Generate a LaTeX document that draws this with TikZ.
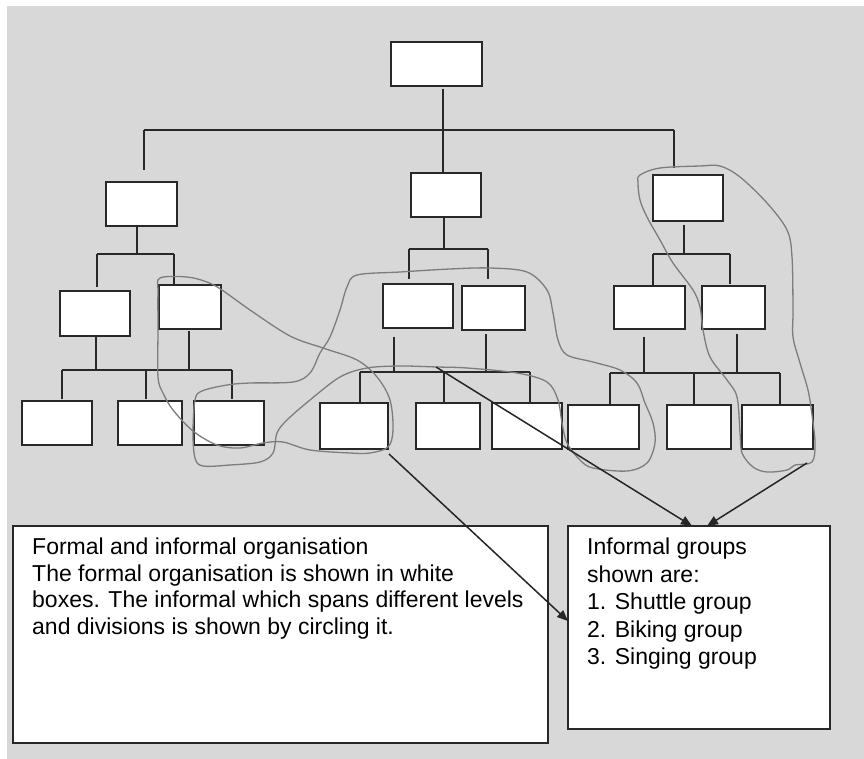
\documentclass[tikz,border=0pt]{standalone}
\usepackage{fontspec}
\setmainfont{Liberation Sans}
\usetikzlibrary{arrows.meta}

\definecolor{canvas}{RGB}{216,216,216}
\definecolor{ink}{RGB}{40,40,40}
\definecolor{pencil}{RGB}{125,125,125}

\tikzset{
  orgbox/.style={draw=ink, line width=2pt, fill=white, inner sep=0pt, outer sep=0pt, anchor=north west},
  notebox/.style={draw=ink, line width=1.6pt, fill=white, inner sep=0pt, outer sep=0pt, anchor=north west},
  link/.style={draw=ink, line width=1.8pt},
  freeloop/.style={draw=pencil, line width=1.3pt},
  pointer/.style={draw=black!85, line width=1.5pt, -{Triangle[length=11pt,width=9pt]}},
  notetext/.style={inner sep=0pt, anchor=north west, align=left, font=\fontsize{23}{26.5}\selectfont},
}

\begin{document}
\begin{tikzpicture}[x=1pt,y=-1pt]
\useasboundingbox (0,0) rectangle (864,759);
\fill[white] (0,0) rectangle (864,759);
\fill[canvas] (7,6) rectangle (864,759);

% ---------- formal organisation: boxes ----------
\node[orgbox, minimum width=91pt, minimum height=44pt] (top) at (391,42) {};
% level 1
\node[orgbox, minimum width=71pt, minimum height=44pt] (A) at (106,182) {};
\node[orgbox, minimum width=70pt, minimum height=44pt] (B) at (411,173) {};
\node[orgbox, minimum width=70pt, minimum height=46pt] (C) at (653,175) {};
% level 2
\node[orgbox, minimum width=70pt, minimum height=45pt] (A1) at (60,291) {};
\node[orgbox, minimum width=62pt, minimum height=44pt] (A2) at (159,285) {};
\node[orgbox, minimum width=70pt, minimum height=44pt] (B1) at (383,284) {};
\node[orgbox, minimum width=63pt, minimum height=44pt] (B2) at (462,286) {};
\node[orgbox, minimum width=71pt, minimum height=43pt] (C1) at (614,286) {};
\node[orgbox, minimum width=63pt, minimum height=43pt] (C2) at (702,286) {};
% level 3
\node[orgbox, minimum width=70pt, minimum height=44pt] (a) at (22,401) {};
\node[orgbox, minimum width=64pt, minimum height=44pt] (b) at (118,401) {};
\node[orgbox, minimum width=70pt, minimum height=44pt] (c) at (194,401) {};
\node[orgbox, minimum width=68pt, minimum height=46pt] (d) at (320,403) {};
\node[orgbox, minimum width=64pt, minimum height=46pt] (e) at (416,403) {};
\node[orgbox, minimum width=70pt, minimum height=46pt] (f) at (492,403) {};
\node[orgbox, minimum width=71pt, minimum height=44pt] (g) at (568,405) {};
\node[orgbox, minimum width=64pt, minimum height=44pt] (h) at (667,405) {};
\node[orgbox, minimum width=71pt, minimum height=44pt] (i) at (742,405) {};

% ---------- reporting lines ----------
\coordinate (hub) at (443,130);
\coordinate (hubL) at (144,130);
\coordinate (hubR) at (674,130);
\draw[link, shorten <=3pt] (hub |- top.south) -- (hub |- B.north);
\draw[link] (hubL) -- (hubR);
\draw[link, shorten >=12pt] (hubL) -- (hubL |- A.north);
\draw[link, shorten >=7pt] (hubR) -- (hubR |- C.north);

% left division
\coordinate (jA) at (137,254);
\coordinate (jAl) at (97,254);
\coordinate (jAr) at (174,254);
\draw[link] (jA |- A.south) -- (jA);
\draw[link] (jAl) -- (jAr);
\draw[link, shorten >=4pt] (jAl) -- (jAl |- A1.north);
\draw[link] (jAr) -- (jAr |- A2.north);
\coordinate (kA1) at (96,370);
\coordinate (kA2) at (189,370);
\coordinate (kAl) at (62,370);
\coordinate (kAm) at (146,370);
\coordinate (kAr) at (232,370);
\draw[link] (kA1 |- A1.south) -- (kA1);
\draw[link, shorten <=2pt] (kA2 |- A2.south) -- (kA2);
\draw[link] (kAl) -- (kAr);
\draw[link, shorten >=2pt] (kAl) -- (kAl |- a.north);
\draw[link, shorten >=2pt] (kAm) -- (kAm |- b.north);
\draw[link, shorten >=2pt] (kAr) -- (kAr |- c.north);

% centre division
\coordinate (jB) at (444,249);
\coordinate (jBl) at (409,249);
\coordinate (jBr) at (488,249);
\draw[link] (jB |- B.south) -- (jB);
\draw[link] (jBl) -- (jBr);
\draw[link, shorten >=5pt] (jBl) -- (jBl |- B1.north);
\draw[link, shorten >=7pt] (jBr) -- (jBr |- B2.north);
\coordinate (kB1) at (394,372);
\coordinate (kB2) at (486,372);
\coordinate (kBl) at (360,372);
\coordinate (kBm) at (444,372);
\coordinate (kBr) at (530,372);
\draw[link, shorten <=9pt] (kB1 |- B1.south) -- (kB1);
\draw[link, shorten <=4pt] (kB2 |- B2.south) -- (kB2);
\draw[link] (kBl) -- (kBr);
\draw[link] (kBl) -- (kBl |- d.north);
\draw[link] (kBm) -- (kBm |- e.north);
\draw[link] (kBr) -- (kBr |- f.north);

% right division
\coordinate (jC) at (684,254);
\coordinate (jCl) at (653,254);
\coordinate (jCr) at (730,254);
\draw[link, shorten <=4pt] (jC |- C.south) -- (jC);
\draw[link] (jCl) -- (jCr);
\draw[link, shorten >=1pt] (jCl) -- (jCl |- C1.north);
\draw[link, shorten >=2pt] (jCr) -- (jCr |- C2.north);
\coordinate (kC1) at (644,373);
\coordinate (kC2) at (737,373);
\coordinate (kCl) at (610,373);
\coordinate (kCm) at (694,373);
\coordinate (kCr) at (780,373);
\draw[link, shorten <=8pt] (kC1 |- C1.south) -- (kC1);
\draw[link, shorten <=5pt] (kC2 |- C2.south) -- (kC2);
\draw[link] (kCl) -- (kCr);
\draw[link, shorten >=1pt] (kCl) -- (kCl |- g.north);
\draw[link, shorten >=1pt] (kCm) -- (kCm |- h.north);
\draw[link, shorten >=1pt] (kCr) -- (kCr |- i.north);

% ---------- informal groups, circled by hand ----------
% loop over A2, c and d
\draw[freeloop] plot[smooth cycle, tension=0.55] coordinates {
  (160,278) (187,277) (207,282) (222,290) (250,310) (290,336) (323,348)
  (357,360) (377,377) (390,400) (393,430) (388,447) (370,453) (350,453)
  (310,450) (283,442) (263,443) (240,448) (217,445) (193,431) (173,410)
  (163,393) (158,377) (158,330) (158,292)};
% loop over B1, B2 with lobes round c and g
\draw[freeloop] plot[smooth cycle, tension=0.55] coordinates {
  (357,275) (400,272) (450,269) (490,268) (527,272) (547,290) (553,313)
  (558,340) (567,355) (593,362) (620,370) (637,383) (645,403) (653,423)
  (655,443) (647,463) (627,471) (593,468) (580,460) (567,443) (562,423)
  (558,400) (547,382) (517,373) (467,368) (437,367) (400,366) (367,368)
  (340,377) (310,400) (287,420) (277,433) (273,453) (260,462) (230,465)
  (203,466) (195,458) (193,433) (195,400) (202,391) (227,385) (250,383)
  (293,382) (310,373) (320,353) (330,337) (340,310) (347,287)};
% loop over C, C2 and i
\draw[freeloop] plot[smooth cycle, tension=0.55] coordinates {
  (640,175) (660,168) (700,166) (720,166) (740,177) (767,203) (787,230)
  (792,257) (793,310) (793,337) (800,363) (808,390) (812,415) (815,443)
  (812,462) (795,465) (787,470) (767,472) (753,467) (742,453) (740,433)
  (737,397) (727,380) (710,357) (703,330) (700,307) (693,290) (673,263)
  (660,240) (647,217) (640,200) (638,183)};

% ---------- explanation boxes ----------
\node[notebox, minimum width=535pt, minimum height=217pt] (note) at (13,526) {};
\node[notebox, minimum width=262pt, minimum height=203pt] (grp) at (568,526) {};
\node[notetext] (notetxt) at ([shift={(19,12)}]note.north west)
  {Formal and informal organisation\\
   The formal organisation is shown in white\\
   boxes. The informal which spans different levels\\
   and divisions is shown by circling it.};
\node[notetext, font=\fontsize{23}{27.5}\selectfont] (grptxt) at ([shift={(19,12)}]grp.north west)
  {Informal groups\\
   shown are:\\
   1. Shuttle group\\
   2. Biking group\\
   3. Singing group};

% ---------- pointers to the group list ----------
\coordinate (p1) at (436,367);
\coordinate (p2) at (807,463);
\coordinate (p3) at (389,454);
\coordinate (q1) at (692,0);
\coordinate (q2) at (707,0);
\coordinate (q3) at (0,621);
\draw[pointer] (p1) -- (q1 |- grp.north);
\draw[pointer] (p2) -- (q2 |- grp.north);
\draw[pointer] (p3) -- (grp.west |- q3);
\end{tikzpicture}
\end{document}
